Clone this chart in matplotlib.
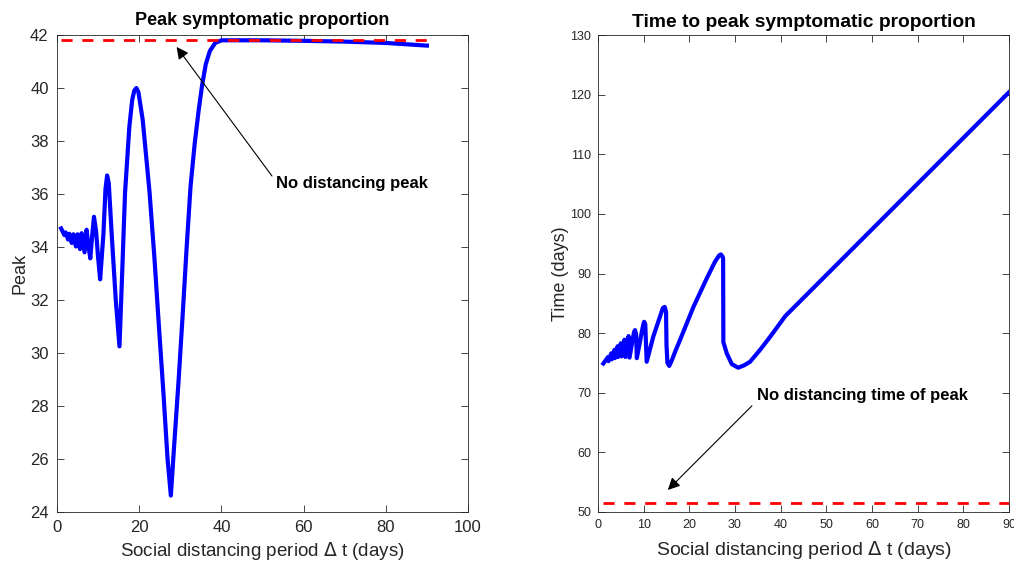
import matplotlib
matplotlib.use("Agg")
import matplotlib.pyplot as plt

plt.rcParams['font.family'] = ['Liberation Sans', 'DejaVu Sans']

# ---------------- data ----------------
# Left panel: peak symptomatic proportion vs social distancing period
peak_dt = [1.0, 1.8, 2.1, 2.7, 3.0, 3.6, 4.0, 4.6, 5.0, 5.6, 6.0, 6.7, 7.2, 7.6,
           8.1, 8.6, 9.0, 9.5, 10.0, 10.5, 11.3, 11.8, 12.2, 12.6, 13.3, 14.3,
           15.2, 15.9, 16.55, 17.6, 18.3, 18.8, 19.3, 19.8, 20.85, 22.5, 23.7,
           24.8, 25.9, 26.9, 27.7, 28.5, 29.6, 30.6, 31.55, 32.5, 33.5, 34.5,
           35.3, 36.2, 37.2, 38.5, 40.0, 50.0, 60.0, 70.0, 80.0, 90.0]
peak_val = [34.70, 34.45, 34.55, 34.28, 34.50, 34.15, 34.48, 34.02, 34.48, 33.92,
            34.52, 33.80, 34.65, 34.10, 33.57, 34.50, 35.14, 34.60, 33.60, 32.78,
            34.50, 36.20, 36.70, 36.40, 34.50, 32.00, 30.25, 33.20, 36.03, 38.54,
            39.55, 39.90, 40.00, 39.85, 38.80, 36.10, 33.60, 31.00, 28.48, 26.00,
            24.62, 26.50, 29.00, 31.50, 34.00, 36.30, 37.90, 39.20, 40.10, 40.90,
            41.40, 41.70, 41.80, 41.80, 41.78, 41.75, 41.70, 41.60]
no_dist_peak = 41.81

# Right panel: time to peak vs social distancing period
time_dt = [1.17, 2.2, 2.3, 2.9, 3.0, 3.6, 3.7, 4.3, 4.4, 5.0, 5.15, 5.8, 6.0,
           6.7, 6.9, 7.9, 8.1, 8.35, 8.5, 9.2, 9.9, 10.1, 10.35, 10.66, 12.1,
           13.5, 14.2, 14.6, 14.9, 15.0, 15.2, 15.6, 16.2, 17.0, 17.95, 20.9,
           23.8, 25.6, 26.5, 26.9, 27.3, 27.4, 27.45, 28.2, 29.3, 30.7, 32.0,
           33.3, 35.5, 38.0, 41.0, 90.0]
time_val = [74.90, 76.00, 75.30, 76.60, 75.60, 77.20, 75.80, 77.80, 76.00, 78.30,
            76.10, 78.90, 76.00, 79.50, 75.90, 80.20, 80.50, 79.80, 75.80, 78.60,
            81.40, 81.90, 81.50, 75.20, 79.40, 82.60, 84.20, 84.40, 83.60, 78.00,
            75.00, 74.50, 75.50, 77.10, 78.83, 84.40, 89.16, 91.95, 93.00, 93.20,
            92.80, 92.50, 78.50, 76.60, 74.80, 74.20, 74.60, 75.20, 77.20, 79.70,
            82.85, 120.40]
no_dist_time = 51.56

dist_range = [1.0, 90.0]

# ---------------- figure ----------------
W, H = 1014, 562
fig = plt.figure(figsize=(W / 100, H / 100), dpi=100)
axc = '#262626'

ax1 = fig.add_axes([57 / W, 1 - 512 / H, 411 / W, 477 / H])
ax2 = fig.add_axes([598 / W, 1 - 512 / H, 411 / W, 477 / H])

def style(ax, fs, pad):
    for s in ax.spines.values():
        s.set_color(axc)
        s.set_linewidth(0.6)
    ax.tick_params(direction='in', which='both', top=True, right=True,
                   colors=axc, labelsize=fs, length=5, width=0.6, pad=pad)

# Left
ax1.plot(peak_dt, peak_val, color='#0000ff', lw=3, solid_joinstyle='round')
ax1.plot(dist_range, [no_dist_peak, no_dist_peak], color='#ff0000', lw=2,
         linestyle=(0, (4, 3.5)))
ax1.set_xlim(0, 100)
ax1.set_ylim(24, 42)
ax1.set_xticks([0, 20, 40, 60, 80, 100])
ax1.set_yticks(list(range(24, 43, 2)))
style(ax1, 12, 6)
ax1.set_title('Peak symptomatic proportion', fontsize=13, fontweight='bold',
              pad=7)
ax1.set_xlabel('Social distancing period $\\Delta$ t (days)', fontsize=13.5,
               color=axc, labelpad=3)
ax1.set_ylabel('Peak', fontsize=13, color=axc, labelpad=1)
ax1.annotate('', xy=(29.1, 41.55), xytext=(52.3, 36.68),
             arrowprops=dict(arrowstyle='-|>', color='black', lw=0.8,
                             mutation_scale=18, shrinkA=0, shrinkB=0))
ax1.text(53.3, 36.38, 'No distancing peak', fontsize=12, fontweight='bold',
         ha='left', va='center')

# Right
ax2.plot(time_dt, time_val, color='#0000ff', lw=3, solid_joinstyle='round')
ax2.plot(dist_range, [no_dist_time, no_dist_time], color='#ff0000', lw=2,
         linestyle=(0, (4, 3.5)))
ax2.set_xlim(0, 90)
ax2.set_ylim(50, 130)
ax2.set_xticks(list(range(0, 91, 10)))
ax2.set_yticks(list(range(50, 131, 10)))
style(ax2, 9, 5)
ax2.set_title('Time to peak symptomatic proportion', fontsize=13.9,
              fontweight='bold', pad=6)
ax2.set_xlabel('Social distancing period $\\Delta$ t (days)', fontsize=14,
               color=axc, labelpad=6)
ax2.set_ylabel('Time (days)', fontsize=13, color=axc, labelpad=1)
ax2.annotate('', xy=(15.3, 53.7), xytext=(33.7, 67.8),
             arrowprops=dict(arrowstyle='-|>', color='black', lw=0.8,
                             mutation_scale=18, shrinkA=0, shrinkB=0))
ax2.text(34.8, 69.6, 'No distancing time of peak', fontsize=12,
         fontweight='bold', ha='left', va='center')

fig.savefig('out.png', dpi=100)
